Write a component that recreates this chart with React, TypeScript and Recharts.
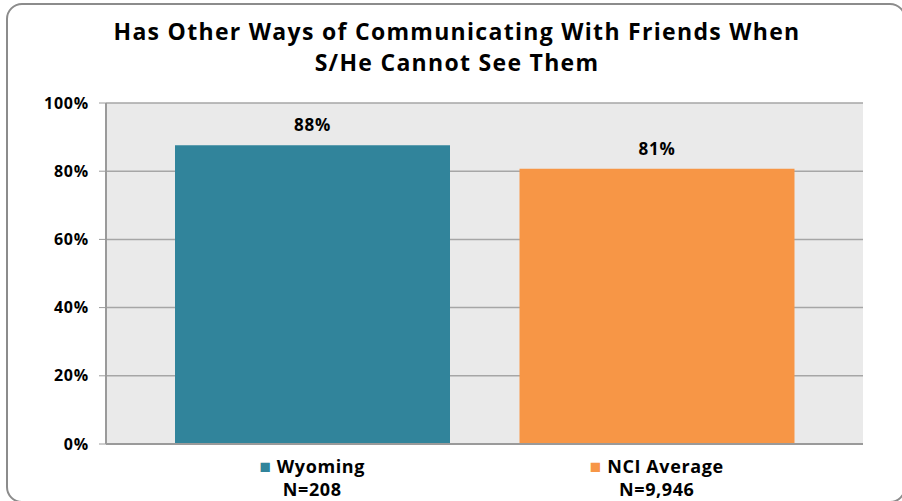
import React from 'react';
import { BarChart, Bar, XAxis, YAxis, CartesianGrid, Cell, LabelList } from 'recharts';

const categories = ['Wyoming', 'NCI Average'];
const sampleSizes = ['N=208', 'N=9,946'];
const values = [87.6, 80.7];
const barColors = ['#31849B', '#F79646'];
const yTicks = [0, 20, 40, 60, 80, 100];

const data = categories.map((name, i) => ({ name, value: values[i], n: sampleSizes[i], color: barColors[i] }));

const FONT = '"Open Sans", sans-serif';

// eslint-disable-next-line @typescript-eslint/no-explicit-any
const LegendTick = ({ x, y, payload, index }: any) => {
    const row = data[index] ?? data.find(d => d.name === payload.value);
    return (
        <g>
            <text x={x} y={y + 21} textAnchor="middle" fontFamily={FONT} fontWeight={700} fontSize={18} letterSpacing={0.6} fill="#000">
                <tspan fill={row?.color} fontSize={19}>■</tspan>
                <tspan> {payload.value}</tspan>
            </text>
            <text x={x} y={y + 44} textAnchor="middle" fontFamily={FONT} fontWeight={700} fontSize={18} letterSpacing={0.6} fill="#000">
                {row?.n}
            </text>
        </g>
    );
};

export default function App() {
    return (
        <div style={{ position: 'absolute', left: 0, top: 0, width: 902, height: 501, background: '#fff', overflow: 'hidden' }}>
            <div
                style={{
                    position: 'absolute', left: 6, top: 3, width: 900, height: 500,
                    border: '2px solid #8c8c8c', borderRadius: 16, boxSizing: 'border-box',
                }}
            />
            <div
                style={{
                    position: 'absolute', left: 0, top: 16, width: 914, textAlign: 'center',
                    fontFamily: FONT, fontWeight: 700, fontSize: 23, letterSpacing: 1.3, lineHeight: '31px', color: '#000',
                }}
            >
                Has Other Ways of Communicating With Friends When<br />S/He Cannot See Them
            </div>
            <div style={{ position: 'absolute', left: 0, top: 0 }}>
                <BarChart width={902} height={501} data={data} margin={{ top: 103, right: 39, bottom: 7, left: 46 }} barSize={275}>
                    <CartesianGrid vertical={false} fill="#EAEAEA" stroke="#a6a6a6" strokeWidth={1.5} />
                    <XAxis
                        dataKey="name"
                        padding={{ left: 34, right: 34 }}
                        tick={<LegendTick />}
                        tickLine={false}
                        axisLine={{ stroke: '#9a9a9a', strokeWidth: 2 }}
                        height={50}
                        interval={0}
                    />
                    <YAxis
                        domain={[0, 100]}
                        ticks={yTicks}
                        tickFormatter={(v: number) => `${v}%`}
                        width={60}
                        tickSize={7}
                        tickLine={{ stroke: '#9a9a9a' }}
                        axisLine={{ stroke: '#9a9a9a', strokeWidth: 2 }}
                        tick={{ fontFamily: FONT, fontWeight: 700, fontSize: 16, letterSpacing: 0.8, fill: '#000', dx: -8 }}
                    />
                    <Bar dataKey="value" isAnimationActive={false}>
                        {data.map((d, i) => (
                            <Cell key={`cell-${i}`} fill={d.color} />
                        ))}
                        <LabelList
                            dataKey="value"
                            position="top"
                            offset={14}
                            formatter={(v: number) => `${Math.round(v)}%`}
                            style={{ fontFamily: FONT, fontWeight: 700, fontSize: 17, letterSpacing: 0.8, fill: '#000' }}
                        />
                    </Bar>
                </BarChart>
            </div>
        </div>
    );
}
